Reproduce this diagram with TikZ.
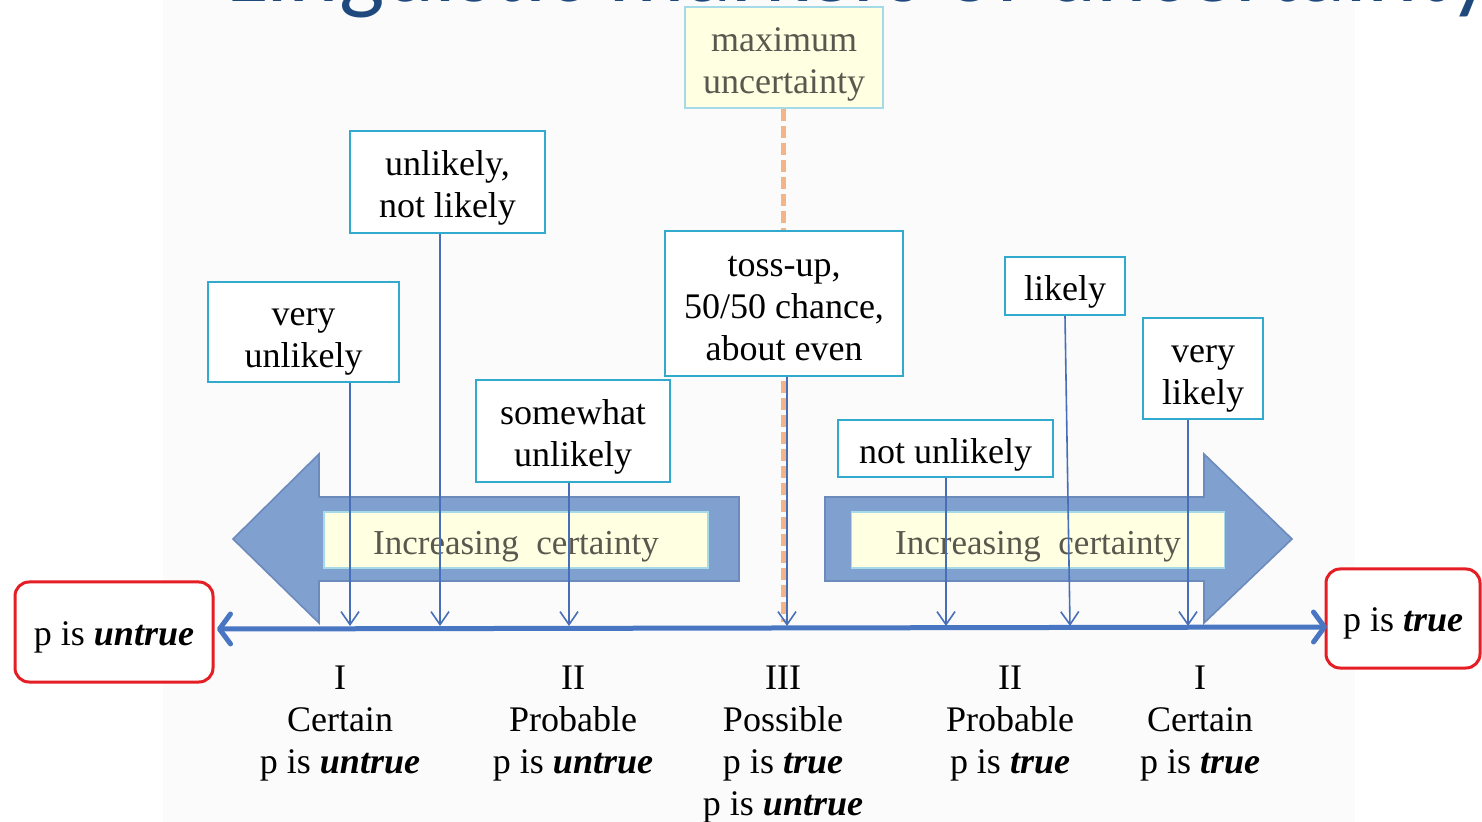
\documentclass[tikz,border=0pt]{standalone}
\usepackage{fontspec}
\setmainfont{Liberation Serif}
\newfontfamily\titlefont{Carlito}
\usetikzlibrary{arrows.meta}
\definecolor{boxblue}{RGB}{49,170,205}
\definecolor{pinblue}{RGB}{70,110,185}
\definecolor{axisblue}{RGB}{72,118,194}
\definecolor{bigfill}{RGB}{128,161,208}
\definecolor{bigdraw}{RGB}{108,138,188}
\definecolor{paleyellow}{RGB}{255,255,225}
\definecolor{palecyan}{RGB}{165,218,232}
\definecolor{redbox}{RGB}{228,30,36}
\definecolor{orangedash}{RGB}{244,180,135}
\definecolor{titleblue}{RGB}{31,73,125}
\definecolor{softtext}{RGB}{88,88,78}
\definecolor{slidegray}{RGB}{251,251,251}
\newcommand{\botstrut}{\rule[-0.216em]{0pt}{0pt}}
\newcommand{\bx}[1]{\rule{0pt}{1.04em}#1\botstrut}
\newcommand{\ex}[1]{\rule{0pt}{0.95em}#1\botstrut}
\begin{document}
\begin{tikzpicture}[x=0.5pt,y=-0.5pt,
  every node/.style={font=\fontsize{18}{21}\selectfont, inner sep=0pt, align=center},
  term/.style={draw=boxblue, line width=1.2pt, fill=white},
  endbox/.style={draw=redbox, line width=1.5pt, rounded corners=7pt, fill=white},
  markerline/.style={draw=pinblue, line width=0.8pt, -{Straight Barb[length=6.5pt,width=9pt]}},
  bigarrow/.style={fill=bigfill, draw=bigdraw, line width=0.8pt},
  banner/.style={fill=paleyellow, draw=palecyan, line width=0.8pt, text=softtext, font=\fontsize{17.5}{21}\selectfont},
  orangeline/.style={draw=orangedash, line width=2.5pt, dash pattern=on 6pt off 2.5pt},
  axisline/.style={draw=axisblue, line width=2.5pt, {Straight Barb[round,length=5.5pt,width=15pt]}-{Straight Barb[round,length=5.5pt,width=15pt]}},
  scaletext/.style={anchor=north}
]
\useasboundingbox (0,0) rectangle (1482,822);
\clip (0,0) rectangle (1482,822);
\fill[slidegray] (163,0) rectangle (1355,822);

% title (cut off at the top)
\node[anchor=base west, font=\titlefont\fontsize{48}{50}\selectfont, text=titleblue] (title) at (226,2) {Linguistic markers of uncertainty};

% big block arrows
\draw[bigarrow] (233,539) -- (319,454) -- (319,497) -- (739,497) -- (739,581) -- (319,581) -- (319,623) -- cycle;
\draw[bigarrow] (1292,539) -- (1204,454) -- (1204,497) -- (825,497) -- (825,581) -- (1204,581) -- (1204,623) -- cycle;
\node[banner, minimum width=192pt, minimum height=28pt] (bl) at (516,540) {\bx{Increasing\ \ certainty}};
\node[banner, minimum width=186.5pt, minimum height=28pt] (br) at (1038,540) {\bx{Increasing\ \ certainty}};

% maximum uncertainty and dashed guide
\node[draw=palecyan, line width=1pt, fill=paleyellow, text=softtext, minimum width=99pt, minimum height=50.5pt] (mx) at (784,57.5) {\bx{maximum\\uncertainty}};
\coordinate (od) at (783,622);
\draw[orangeline] (mx.south -| od) -- (od);

% term boxes
\node[term, minimum width=97.5pt, minimum height=51pt] (ul) at (447.5,182) {\bx{unlikely,\\not likely}};
\node[term, minimum width=95.5pt, minimum height=50pt] (vu) at (303.5,332) {\bx{very\\unlikely}};
\node[term, minimum width=97pt, minimum height=51pt] (su) at (573,431) {\bx{somewhat\\unlikely}};
\node[term, minimum width=119pt, minimum height=72.5pt] (toss) at (784,303.5) {\bx{toss-up,\\50/50 chance,\\about even}};
\node[term, minimum width=107.5pt, minimum height=28.5pt] (nu) at (945.5,448.5) {\bx{not unlikely}};
\node[term, minimum width=60pt, minimum height=29pt] (lk) at (1065,286) {\bx{likely}};
\node[term, minimum width=60pt, minimum height=50.5pt] (vl) at (1203,368.5) {\bx{very\\likely}};

% end boxes
\node[endbox, minimum width=99pt, minimum height=50pt] (untrue) at (114,632) {\ex{p is \textbf{\textit{untrue}}}};
\node[endbox, minimum width=77pt, minimum height=49.5pt] (true) at (1403,618.5) {\ex{p is \textbf{\textit{true}}}};

% axis
\coordinate (axL) at (217,629);
\coordinate (axR) at (1327,627);
\draw[axisline] (axL) -- (axR);

% marker lines onto the axis
\coordinate (t1) at (350,626);
\coordinate (t2) at (440,626);
\coordinate (t3) at (569,626);
\coordinate (t4) at (787,626);
\coordinate (t5) at (946,626);
\coordinate (t6) at (1070,626);
\coordinate (t7) at (1188,626);
\draw[markerline] (vu.south -| t1) -- (t1);
\draw[markerline] (ul.south -| t2) -- (t2);
\draw[markerline] (su.south -| t3) -- (t3);
\draw[markerline] (toss.south -| t4) -- (t4);
\draw[markerline] (nu.south -| t5) -- (t5);
\draw[markerline] (lk.south) -- (t6);
\draw[markerline] (vl.south -| t7) -- (t7);

% category labels
\node[scaletext] (c1) at (340,666) {I\\Certain\\p is \textbf{\textit{untrue}}};
\node[scaletext] (c2) at (573,666) {II\\Probable\\p is \textbf{\textit{untrue}}};
\node[scaletext] (c3) at (783,666) {III\\Possible\\p is \textbf{\textit{true}}\\p is \textbf{\textit{untrue}}};
\node[scaletext] (c4) at (1010,666) {II\\Probable\\p is \textbf{\textit{true}}};
\node[scaletext] (c5) at (1200,666) {I\\Certain\\p is \textbf{\textit{true}}};
\end{tikzpicture}
\end{document}
